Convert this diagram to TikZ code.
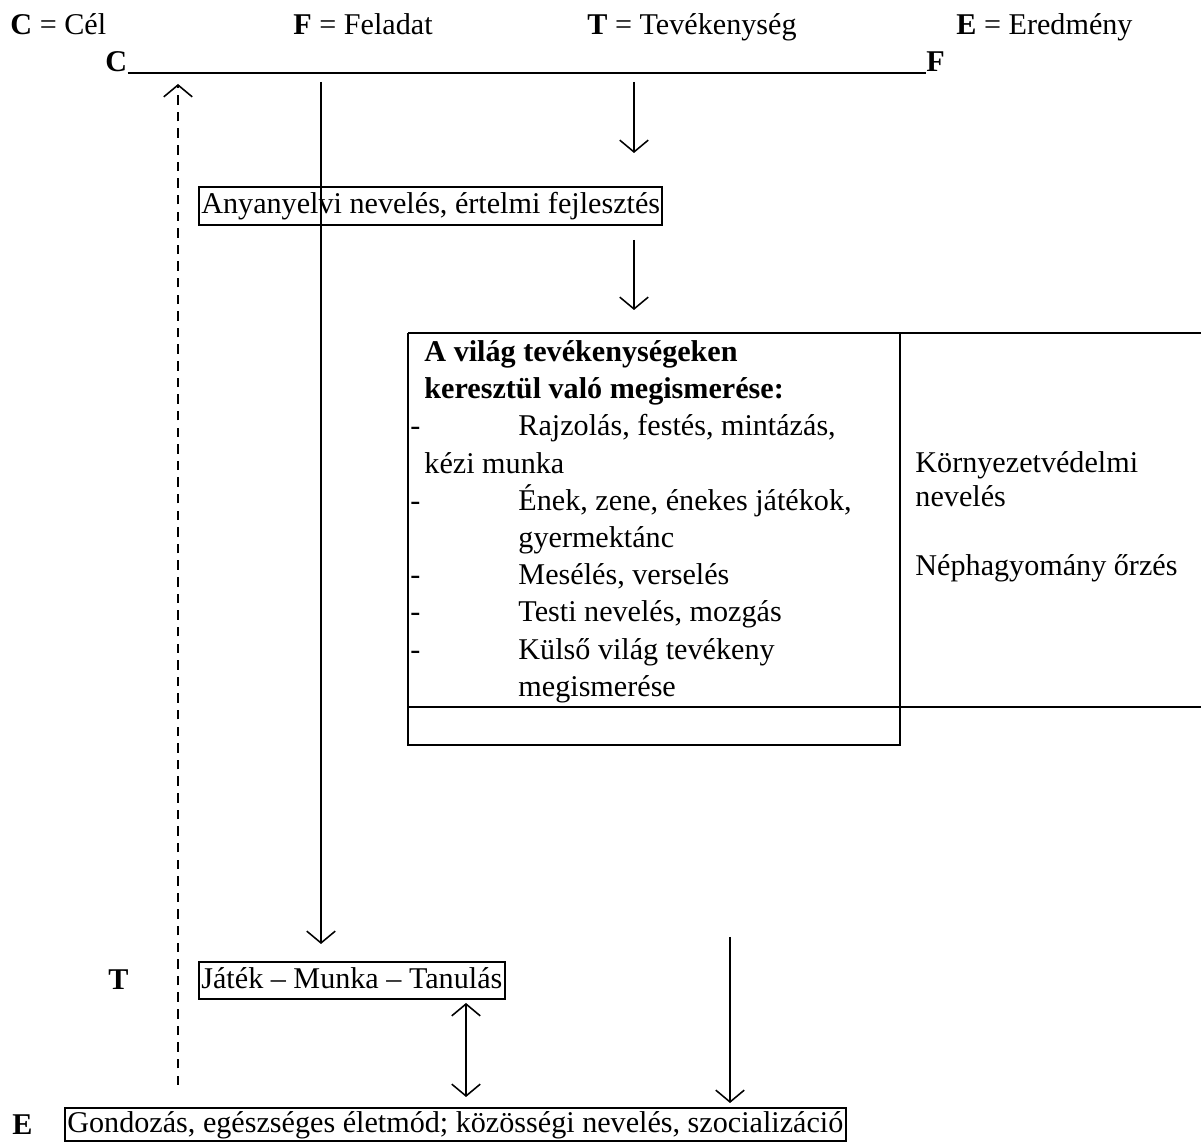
\documentclass[tikz,border=0pt]{standalone}
\usepackage{fontspec}
\setmainfont{Liberation Serif}
\usetikzlibrary{arrows.meta}
\tikzstyle{plaintext} = [inner sep=0pt, anchor=base west, font=\fontsize{12.7}{15}\selectfont]
\tikzstyle{framed} = [draw, line width=0.85pt, inner xsep=1pt, inner ysep=0pt, text height=9.2pt, text depth=2.8pt, anchor=west, font=\fontsize{12.7}{15}\selectfont]
\tikzstyle{flow} = [draw, line width=0.65pt, -{Straight Barb[length=5pt,width=12pt]}]
\tikzstyle{dashedflow} = [flow, dash pattern=on 4pt off 3pt]
\tikzstyle{twoway} = [draw, line width=0.65pt, {Straight Barb[length=5pt,width=12pt]}-{Straight Barb[length=5pt,width=12pt]}]
\tikzstyle{rule} = [draw, line width=0.85pt]

\begin{document}
\begin{tikzpicture}[x=0.4213pt, y=-0.4213pt]
    \useasboundingbox (0,0) rectangle (1201,1142);

    % Legend on the top row
    \foreach \pos/ \name/ \txt in {{(10,35)/legC/{\textbf{C} = Cél}}, {(293,35)/legF/{\textbf{F} = Feladat}},
        {(587,35)/legT/{\textbf{T} = Tevékenység}}, {(956,35)/legE/{\textbf{E} = Eredmény}}}
        \node[plaintext] (\name) at \pos {\txt};

    % C ---- F line
    \node[plaintext] (markC) at (105,72) {\textbf{C}};
    \node[plaintext] (markF) at (926,72) {\textbf{F}};
    \path[rule, line width=0.7pt] ([yshift=-0.5pt]markC.base east) -- ([yshift=-0.5pt]markF.base west);

    % Boxes
    \node[framed, minimum height=16pt] (anyanyelv) at (198,206) {Anyanyelvi nevelés, értelmi fejlesztés};
    \node[framed, minimum height=15.6pt] (jatek) at (198,980.5) {Játék – Munka – Tanulás};
    \node[framed, minimum height=13.9pt] (gondozas) at (64,1124.5) {Gondozás, egészséges életmód; közösségi nevelés, szocializáció};
    \node[plaintext] (markT) at (108,990) {\textbf{T}};
    \node[plaintext] (markE) at (12,1135) {\textbf{E}};

    % The table
    \path[rule] (408,333) -- (1201,333);
    \path[rule] (408,707) -- (1201,707);
    \path[rule] (408,333) -- (408,745) -- (900,745) -- (900,333);

    % Text of the left cell
    \foreach \x/ \y/ \txt in {424/362/{\textbf{A világ tevékenységeken}}, 424/399/{\textbf{keresztül való megismerése:}},
        518/436/{Rajzolás, festés, mintázás,}, 424/474/{kézi munka}, 518/511/{Ének, zene, énekes játékok,},
        518/548/{gyermektánc}, 518/585/{Mesélés, verselés}, 518/622/{Testi nevelés, mozgás},
        518/660/{Külső világ tevékeny}, 518/697/{megismerése}}
        \node[plaintext] (cell\y) at (\x,\y) {\txt};
    \foreach \y in {436,511,585,622,660}
        \node[plaintext] (dash\y) at (410,\y) {-};

    % Text of the right cell
    \foreach \y/ \txt in {473/{Környezetvédelmi}, 507/{nevelés}, 576/{Néphagyomány őrzés}}
        \node[plaintext] (side\y) at (915,\y) {\txt};

    % End points of the arrows
    \foreach \name/ \x/ \y in {dashbot/178/1085, dashtop/178/84, ftop/321/82, fbot/321/944,
        aatop/634/82, aabot/634/153, abtop/634/240, abbot/634/310,
        actop/730/937, acbot/730/1103, dbltop/466/1003, dblbot/466/1097}
        \coordinate (\name) at (\x,\y);

    % Arrows
    \path[dashedflow] (dashbot) -- (dashtop);
    \foreach \source/ \dest in {ftop/fbot, aatop/aabot, abtop/abbot, actop/acbot}
        \path[flow] (\source) -- (\dest);
    \path[twoway] (dbltop) -- (dblbot);

\end{tikzpicture}
\end{document}
